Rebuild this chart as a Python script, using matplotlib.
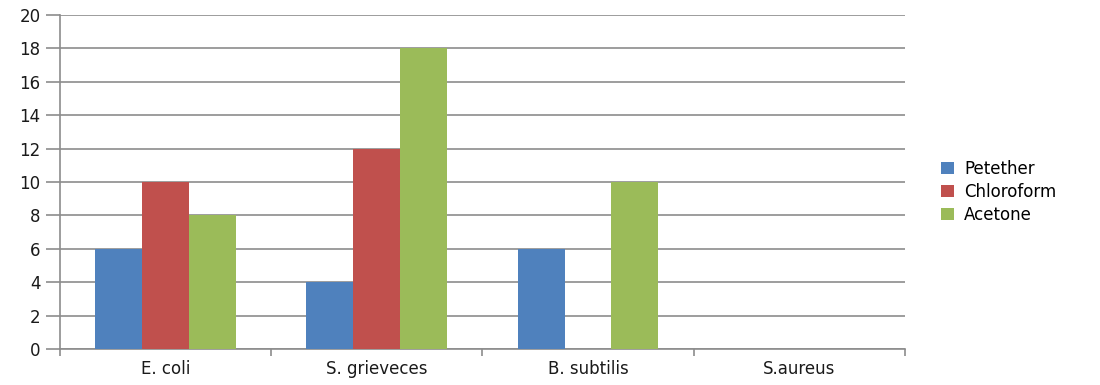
import matplotlib
matplotlib.use("Agg")
import matplotlib.pyplot as plt
import numpy as np

categories = ["E. coli", "S. grieveces", "B. subtilis", "S.aureus"]
petether = [6, 4, 6, 0]
chloroform = [10, 12, 0, 0]
acetone = [8, 18, 10, 0]
series_names = ["Petether", "Chloroform", "Acetone"]
colors = ["#4F81BD", "#C0504D", "#9BBB59"]
yticks = list(range(0, 21, 2))

plt.rcParams['font.family'] = 'sans-serif'
plt.rcParams['font.sans-serif'] = ['DejaVu Sans']
fig = plt.figure(figsize=(11, 3.85), dpi=100)
ax = fig.add_axes([0.0545, 0.0935, 0.768, 0.8675])

x = np.arange(len(categories))
width = 0.222
for i, (vals, name, col) in enumerate(zip([petether, chloroform, acetone], series_names, colors)):
    ax.bar(x + (i - 1) * width, vals, width, color=col, label=name, zorder=3)

ax.set_xlim(-0.5, len(categories) - 0.5)
ax.set_ylim(0, 20)
ax.set_yticks(yticks)
ax.set_yticklabels([str(v) for v in yticks], fontsize=12, color="#1a1a1a")
ax.yaxis.grid(True, color="#8c8c8c", linewidth=1.2, zorder=0)
ax.tick_params(axis="y", length=10, color="#8c8c8c", width=1.2, pad=4)

# category labels centred, tick marks on the boundaries between groups
ax.set_xticks(np.arange(-0.5, len(categories), 1.0))
ax.set_xticklabels([])
ax.set_xticks(x, minor=True)
ax.set_xticklabels(categories, minor=True, fontsize=12, color="#1a1a1a")
ax.tick_params(axis="x", which="major", length=5, color="#8c8c8c", width=1.2, direction="out")
ax.tick_params(axis="x", which="minor", length=0, pad=8)

for side in ["top", "right"]:
    ax.spines[side].set_visible(False)
for side in ["left", "bottom"]:
    ax.spines[side].set_color("#8c8c8c")
    ax.spines[side].set_linewidth(1.2)

ax.legend(loc="center left", bbox_to_anchor=(1.025, 0.47), frameon=False,
          fontsize=12, handlelength=0.8, handleheight=0.7, handletextpad=0.6,
          labelspacing=0.3)

fig.savefig("out.png", dpi=100)
